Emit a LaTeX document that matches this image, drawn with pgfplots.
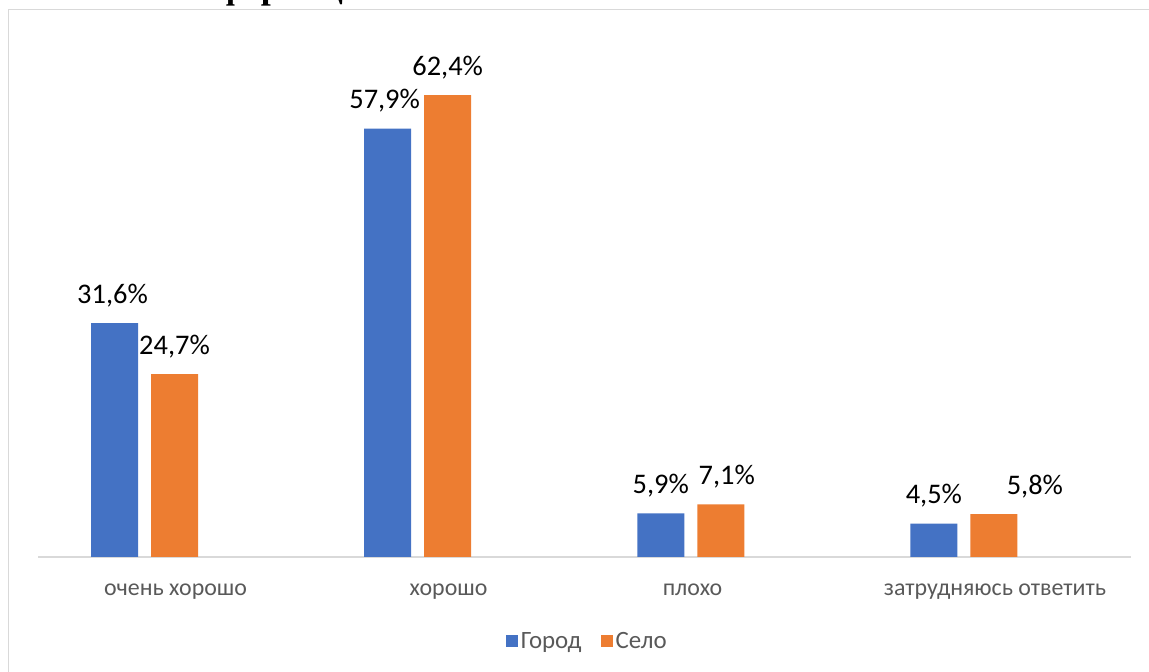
\documentclass[border=0pt]{standalone}
\usepackage{fontspec}
\setmainfont{Carlito}
\newfontfamily\timesfont{Liberation Serif}
\usepackage{pgfplots}
\pgfplotsset{compat=1.18}
\definecolor{cblue}{HTML}{4472C4}
\definecolor{corange}{HTML}{ED7D31}
\definecolor{fgray}{HTML}{D9D9D9}
\definecolor{tgray}{HTML}{595959}
\begin{document}
\begin{tikzpicture}[x=1bp,y=1bp]
\useasboundingbox (0,0) rectangle (1149,672);
\begin{scope}
\clip (0,0) rectangle (1149,672);
\node[anchor=base west, inner sep=0, font=\timesfont\bfseries\fontsize{36}{40}\selectfont] at (218,673) {формации};
\draw[fgray, line width=1.5bp] (8.5,-5) -- (8.5,662.5) -- (1160,662.5);
\end{scope}
\begin{axis}[
  at={(38bp,115bp)}, anchor=south west,
  scale only axis, width=1093bp, height=518bp,
  ymin=0, ymax=70, xmin=-0.39, xmax=3.612,
  axis x line=bottom, axis y line=none,
  x axis line style={-, draw=fgray, line width=1.5bp},
  xtick={0.1135,1.113,2.0066,3.114},
  xticklabels={очень хорошо, хорошо, плохо, затрудняюсь ответить},
  major tick length=0,
  xticklabel style={font=\fontsize{24}{27}\selectfont, text=tgray, anchor=base, yshift=-39bp},
  ybar, bar width=47bp,
  visualization depends on={\thisrow{dx} \as \dx},
  nodes near coords={\pgfmathprintnumber[fixed, fixed zerofill, precision=1, use comma, assume math mode=true]{\pgfplotspointmeta}\%},
  every node near coord/.append style={font=\fontsize{28.5}{32}\selectfont, text=black, anchor=base, inner sep=0, yshift=20bp, xshift=\dx bp},
  legend style={at={(0.503,-0.162)}, anchor=center, draw=none, fill=none,
    font=\fontsize{25}{28}\selectfont, text=tgray, legend columns=2,
    /tikz/every even column/.append style={column sep=16bp},
    nodes={inner xsep=3bp}},
  legend image code/.code={\fill[#1] (0bp,-6bp) rectangle (12bp,6bp);},
]
\addplot[fill=cblue, draw=none, bar shift=-30bp] table[x=x, y=y] {
x y dx
0 31.6 -2
1 57.9 -3
2 5.9 0
3 4.5 0
};
\addplot[fill=corange, draw=none, bar shift=30bp] table[x=x, y=y] {
x y dx
0 24.7 0
1 62.4 0
2 7.1 6
3 5.8 41
};
\legend{Город, Село}
\end{axis}
\end{tikzpicture}
\end{document}
